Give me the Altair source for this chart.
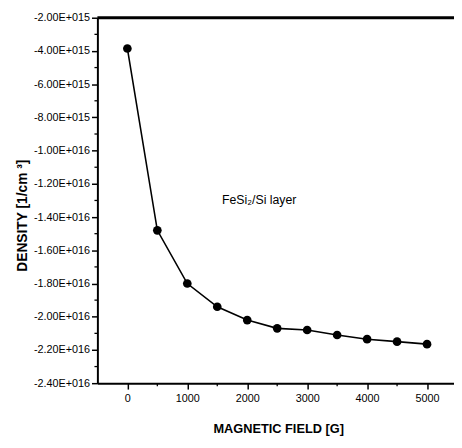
import altair as alt
import pandas as pd

# ---- data ----
field = [0, 500, 1000, 1500, 2000, 2500, 3000, 3500, 4000, 4500, 5000]
density = [-3.85e15, -1.48e16, -1.80e16, -1.94e16, -2.02e16, -2.07e16,
           -2.08e16, -2.11e16, -2.135e16, -2.15e16, -2.165e16]

x_ticks = [0, 1000, 2000, 3000, 4000, 5000]
x_minor = [500, 1500, 2500, 3500, 4500]
y_ticks = [-2.0e15, -4.0e15, -6.0e15, -8.0e15, -1.0e16, -1.2e16,
           -1.4e16, -1.6e16, -1.8e16, -2.0e16, -2.2e16, -2.4e16]
y_minor = [-3.0e15, -5.0e15, -7.0e15, -9.0e15, -1.1e16, -1.3e16,
           -1.5e16, -1.7e16, -1.9e16, -2.1e16, -2.3e16]

ann_text = ["FeSi\u2082/Si layer"]
ann_x = [1580]
ann_y = [-1.30e16]

x_title = "MAGNETIC FIELD [G]"
y_title = "DENSITY [1/cm  \u00b3]"

# ---- layout ----
W, H = 363, 372
FONT = "Liberation Sans, Arial, sans-serif"

df = pd.DataFrame({"field": field, "density": density})
xscale = alt.Scale(domain=[-500, 5450], nice=False, zero=False)
yscale = alt.Scale(domain=[-2.4e16, -2.0e15], nice=False, zero=False)

x_axis = alt.Axis(
    values=x_ticks, format="d", title=x_title, grid=False,
    titleX=184, titleY=46, titleAlign="center", titleBaseline="middle",
    titleFontSize=13,
    labelPadding=4, labelOverlap=False, labelFlush=False,
)
y_axis = alt.Axis(
    values=y_ticks,
    labelExpr="'-' + replace(upper(format(-datum.value, '.2e')), 'E+', 'E+0')",
    title=y_title, grid=False, titleAngle=-90,
    titleX=-76, titleY=201, titleAlign="center", titleBaseline="middle",
    titleFontSize=14,
    labelPadding=2, labelOverlap=False, labelFlush=False,
)

X = alt.X("field:Q", scale=xscale, axis=x_axis)
Y = alt.Y("density:Q", scale=yscale, axis=y_axis)

line = alt.Chart(df).mark_line(color="black", strokeWidth=1.6).encode(x=X, y=Y)
points = alt.Chart(df).mark_point(filled=True, color="black", size=78, opacity=1).encode(x=X, y=Y)

xminor = alt.Chart(pd.DataFrame({"field": x_minor})).mark_rule(
    color="black", strokeWidth=1.3
).encode(x=X, y=alt.value(H), y2=alt.value(H + 3))

yminor = alt.Chart(pd.DataFrame({"density": y_minor})).mark_rule(
    color="black", strokeWidth=1.3
).encode(y=Y, x=alt.value(-3), x2=alt.value(0))

top_border = alt.Chart(pd.DataFrame({"a": [0]})).mark_rule(
    color="black", strokeWidth=3
).encode(x=alt.value(0), x2=alt.value(W), y=alt.value(0))

ann = alt.Chart(pd.DataFrame({"field": ann_x, "density": ann_y, "label": ann_text})).mark_text(
    align="left", baseline="middle", font=FONT,
    fontSize=12.5, color="black"
).encode(x=X, y=Y, text="label:N")

chart = alt.layer(line, points, xminor, yminor, top_border, ann).properties(
    width=W, height=H,
    autosize=alt.AutoSizeParams(type="none"),
    padding={"left": 91, "top": 6, "right": 0, "bottom": 58},
    background="white",
).configure_view(stroke=None).configure_axis(
    domainColor="black", domainWidth=2, tickColor="black", tickWidth=1.5,
    tickSize=6, labelFont=FONT, labelFontSize=11, labelColor="black",
    titleFont=FONT, titleFontWeight="bold", titleColor="black",
)

chart.save("out.html", embed_options={"renderer": "svg", "actions": False})
